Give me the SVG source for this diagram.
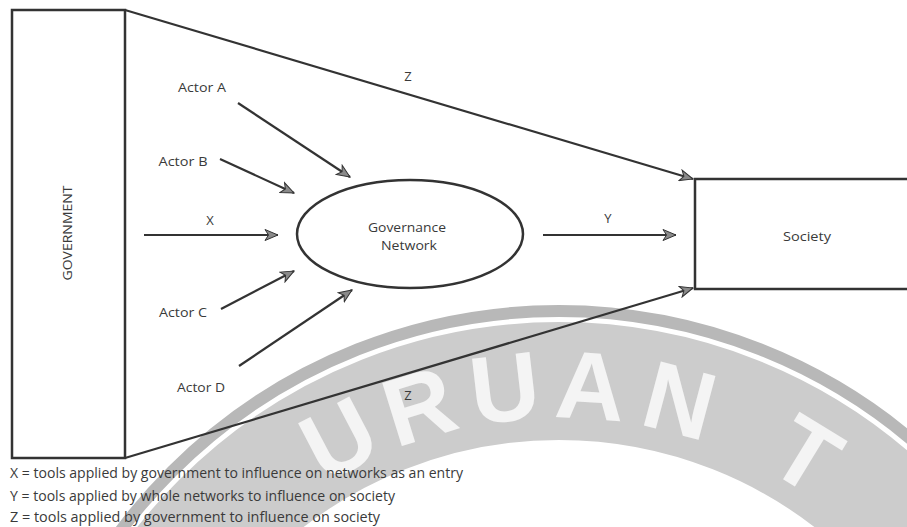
<svg xmlns="http://www.w3.org/2000/svg" width="907" height="527" viewBox="0 0 907 527">
<defs>
<style>
.lbl{font-family:"Open Sans","Noto Sans","Liberation Sans",sans-serif;font-size:13px;fill:#3a3a3a;text-anchor:middle}
.leg{font-family:"Open Sans","Noto Sans","Liberation Sans",sans-serif;font-size:14px;fill:#3a3a3a}
.box{fill:none;stroke:#333;stroke-width:2.5}
.con{fill:none;stroke:#333;stroke-width:2.2}
.wm{font-family:"Liberation Sans",Arial,sans-serif;font-weight:bold;font-size:96px;fill:#f4f4f4;text-anchor:middle}
</style>
<marker id="ah" viewBox="0 0 15 13" refX="14" refY="6.5" markerWidth="15" markerHeight="13" markerUnits="userSpaceOnUse" orient="auto">
<path d="M1,1 L14,6.5 L1,12 L4.5,6.5 Z" fill="#8a8a8a" stroke="#333" stroke-width="1"/>
</marker>
</defs>
<rect width="907" height="527" fill="#ffffff"/>
<g id="watermark">
<circle cx="559" cy="858" r="547" fill="none" stroke="#b8b8b8" stroke-width="12"/>
<circle cx="559" cy="858" r="477" fill="none" stroke="#cccccc" stroke-width="118"/>
<text class="wm" x="559" y="418" transform="rotate(-27.7 559 858)">U</text>
<text class="wm" x="559" y="418" transform="rotate(-17.2 559 858)">R</text>
<text class="wm" x="559" y="418" transform="rotate(-6.6 559 858)">U</text>
<text class="wm" x="559" y="418" transform="rotate(3.8 559 858)">A</text>
<text class="wm" x="559" y="418" transform="rotate(14.8 559 858)">N</text>
<text class="wm" x="559" y="418" transform="rotate(31.5 559 858)">T</text>
</g>
<g id="connectors">
<line class="con" x1="125" y1="10" x2="693" y2="179" marker-end="url(#ah)"/>
<line class="con" x1="125" y1="458" x2="693" y2="288" marker-end="url(#ah)"/>
<line class="con" x1="144" y1="235" x2="278" y2="235" marker-end="url(#ah)"/>
<line class="con" x1="543" y1="235" x2="676" y2="235" marker-end="url(#ah)"/>
<line class="con" x1="238" y1="103" x2="350" y2="177" marker-end="url(#ah)"/>
<line class="con" x1="220" y1="159" x2="294" y2="193" marker-end="url(#ah)"/>
<line class="con" x1="221" y1="309" x2="294" y2="271" marker-end="url(#ah)"/>
<line class="con" x1="239" y1="366" x2="352" y2="290" marker-end="url(#ah)"/>
<text class="lbl" x="408" y="81">Z</text>
<text class="lbl" x="408" y="400">Z</text>
<text class="lbl" x="210" y="225">X</text>
<text class="lbl" x="608" y="223">Y</text>
</g>
<g id="government">
<rect class="box" x="12" y="10" width="113" height="448"/>
<text class="lbl" x="0" y="0" font-size="11" textLength="95" lengthAdjust="spacingAndGlyphs" transform="translate(72 233) rotate(-90)">GOVERNMENT</text>
</g>
<g id="society">
<rect class="box" x="695" y="179" width="240" height="110"/>
<text class="lbl" x="807" y="241" textLength="48" lengthAdjust="spacingAndGlyphs">Society</text>
</g>
<g id="network">
<ellipse class="box" cx="410" cy="234" rx="113" ry="54"/>
<text class="lbl" x="407" y="232" textLength="78" lengthAdjust="spacingAndGlyphs">Governance</text>
<text class="lbl" x="409" y="250" textLength="56" lengthAdjust="spacingAndGlyphs">Network</text>
</g>
<g id="actorA"><text class="lbl" x="202" y="92" textLength="48" lengthAdjust="spacingAndGlyphs">Actor A</text></g>
<g id="actorB"><text class="lbl" x="183" y="166" textLength="49" lengthAdjust="spacingAndGlyphs">Actor B</text></g>
<g id="actorC"><text class="lbl" x="183" y="317" textLength="48" lengthAdjust="spacingAndGlyphs">Actor C</text></g>
<g id="actorD"><text class="lbl" x="201" y="392" textLength="48" lengthAdjust="spacingAndGlyphs">Actor D</text></g>
<g id="legend">
<text class="leg" x="10" y="478" textLength="453" lengthAdjust="spacingAndGlyphs">X = tools applied by government to influence on networks as an entry</text>
<text class="leg" x="10" y="501" textLength="385" lengthAdjust="spacingAndGlyphs">Y = tools applied by whole networks to influence on society</text>
<text class="leg" x="10" y="522" textLength="370" lengthAdjust="spacingAndGlyphs">Z = tools applied by government to influence on society</text>
</g>
</svg>
